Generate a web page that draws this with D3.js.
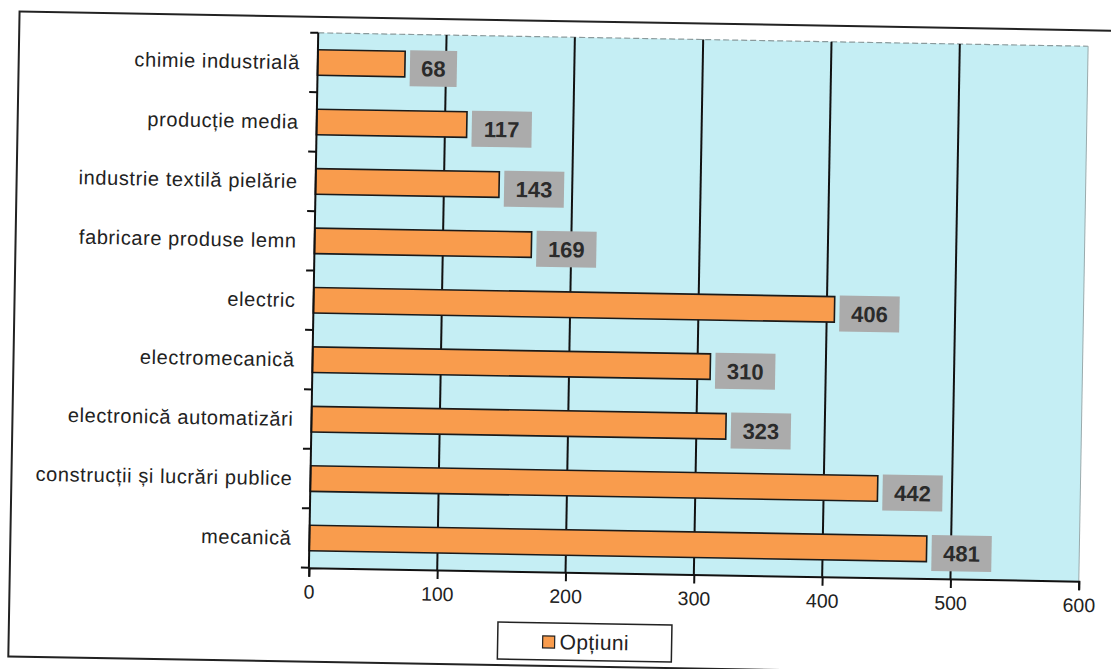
<!DOCTYPE html>
<html>
<head>
<meta charset="utf-8">
<script src="https://cdn.jsdelivr.net/npm/d3@7"></script>
<style>
  body { margin: 0; background: #fff; }
  svg { display: block; font-family: "Liberation Sans", Arial, sans-serif; }
</style>
</head>
<body>
<svg id="chart" width="1111" height="669"></svg>
<script>
// data, top to bottom as drawn
var categories = ["chimie industrială", "producție media", "industrie textilă pielărie",
    "fabricare produse lemn", "electric", "electromecanică", "electronică automatizări",
    "construcții și lucrări publice", "mecanică"];
var optiuni = [68, 117, 143, 169, 406, 310, 323, 442, 481];
var xTicks = [0, 100, 200, 300, 400, 500, 600];
var seriesName = "Opțiuni";

var margin = {top: 37, left: 313, right: 28, bottom: 97};
var width = 1111 - margin.left - margin.right;   // 770
var height = 669 - margin.top - margin.bottom;   // 535

var svg = d3.select("#chart");
// the scan is tilted slightly clockwise
var page = svg.append("g").attr("transform", "rotate(1, 555, 335)");

// outer frame
page.append("rect")
    .attr("x", 14).attr("y", 21)
    .attr("width", 1130).attr("height", 645)
    .attr("fill", "none").attr("stroke", "#222").attr("stroke-width", 2);

var chart = page.append("g")
    .attr("transform", "translate(" + margin.left + "," + margin.top + ")");

var x = d3.scaleLinear().domain([0, 600]).range([0, width]);
var y = d3.scaleBand().domain(categories).range([0, height]).paddingInner(0.57).paddingOuter(0.285);
var band = d3.scaleBand().domain(categories).range([0, height]);

// plot background
chart.append("rect")
    .attr("width", width).attr("height", height)
    .attr("fill", "#c5eef4");
chart.append("line")
    .attr("x1", 0).attr("x2", width).attr("y1", 0).attr("y2", 0)
    .attr("stroke", "#8a9a9c").attr("stroke-width", 1.2).attr("stroke-dasharray", "6,3");
chart.append("line")
    .attr("x1", width).attr("x2", width).attr("y1", 0).attr("y2", height)
    .attr("stroke", "#9aaaac").attr("stroke-width", 1);

// vertical gridlines
chart.selectAll(".grid")
    .data(xTicks.filter(function (d) { return d > 0 && d < 600; }))
    .enter().append("line")
    .attr("class", "grid")
    .attr("x1", function (d) { return x(d); })
    .attr("x2", function (d) { return x(d); })
    .attr("y1", 0).attr("y2", height)
    .attr("stroke", "#111").attr("stroke-width", 2);

// bars
chart.selectAll(".bar")
    .data(optiuni)
    .enter().append("rect")
    .attr("class", "bar")
    .attr("x", x(0))
    .attr("y", function (d, i) { return y(categories[i]); })
    .attr("width", function (d) { return x(d) - x(0); })
    .attr("height", y.bandwidth())
    .attr("fill", "#f99c4d")
    .attr("stroke", "#1a1a1a").attr("stroke-width", 1.6);

// value labels in grey boxes
var labels = chart.selectAll(".lbl")
    .data(optiuni)
    .enter().append("g")
    .attr("class", "lbl")
    .attr("transform", function (d, i) {
        return "translate(" + (x(d) + 5) + "," + (y(categories[i]) + y.bandwidth() / 2 + 4) + ")";
    });
labels.append("rect")
    .attr("x", 0).attr("y", -18)
    .attr("width", function (d) { return String(d).length * 13 + 21; })
    .attr("height", 36)
    .attr("fill", "#ababab");
labels.append("text")
    .attr("x", function (d) { return (String(d).length * 13 + 21) / 2; })
    .attr("y", 8)
    .attr("text-anchor", "middle")
    .attr("font-size", 22).attr("font-weight", "bold")
    .attr("fill", "#2b2b2b")
    .text(function (d) { return d; });

// x axis
var xAxis = chart.append("g")
    .attr("transform", "translate(0," + height + ")")
    .call(d3.axisBottom(x).tickValues(xTicks).tickSize(9).tickPadding(8));
xAxis.select(".domain").attr("stroke", "#111").attr("stroke-width", 2);
xAxis.selectAll(".tick line").attr("stroke", "#111").attr("stroke-width", 2);
xAxis.selectAll(".tick text").attr("font-size", 19.5).attr("fill", "#222")
    .attr("font-family", "'Liberation Sans', Arial, sans-serif");

// y axis: ticks at band boundaries
var yAxisG = chart.append("g");
yAxisG.append("line")
    .attr("x1", 0).attr("x2", 0).attr("y1", 0).attr("y2", height)
    .attr("stroke", "#111").attr("stroke-width", 2);
yAxisG.selectAll(".ytick")
    .data(d3.range(categories.length + 1))
    .enter().append("line")
    .attr("class", "ytick")
    .attr("x1", -8).attr("x2", 0)
    .attr("y1", function (i) { return i * band.step(); })
    .attr("y2", function (i) { return i * band.step(); })
    .attr("stroke", "#111").attr("stroke-width", 2);
yAxisG.selectAll(".ylab")
    .data(categories)
    .enter().append("text")
    .attr("class", "ylab")
    .attr("x", -18)
    .attr("y", function (d) { return y(d) + y.bandwidth() / 2; })
    .attr("dy", "0.35em")
    .attr("text-anchor", "end")
    .attr("font-size", 20)
    .attr("letter-spacing", 0.6)
    .attr("fill", "#222")
    .text(function (d) { return d; });

// legend
var legend = page.append("g").attr("transform", "translate(503,623)");
legend.append("rect")
    .attr("width", 174).attr("height", 37)
    .attr("fill", "#fff").attr("stroke", "#222").attr("stroke-width", 1.5);
legend.append("rect")
    .attr("x", 45).attr("y", 13).attr("width", 12).attr("height", 12)
    .attr("fill", "#f99c4d").attr("stroke", "#222").attr("stroke-width", 1.2);
legend.append("text")
    .attr("x", 62).attr("y", 26)
    .attr("font-size", 21).attr("letter-spacing", 0.4).attr("fill", "#222")
    .text(seriesName);
</script>
</body>
</html>
